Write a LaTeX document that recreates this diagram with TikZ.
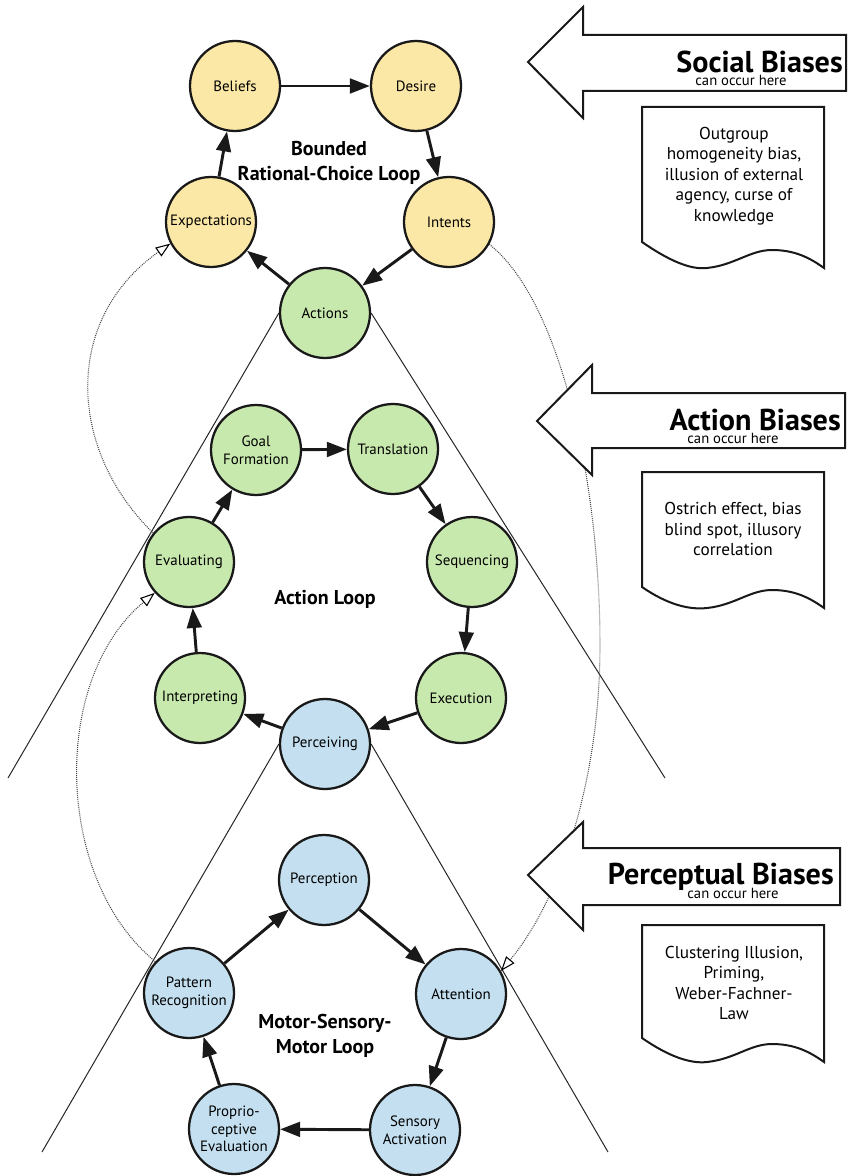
\documentclass[tikz,border=0pt]{standalone}
\usepackage{fontspec}
\setmainfont{PT Sans}
\usetikzlibrary{arrows.meta,backgrounds}
\definecolor{beliefY}{RGB}{252,232,166}
\definecolor{actionG}{RGB}{200,233,174}
\definecolor{senseB}{RGB}{196,224,240}
\definecolor{dotgray}{RGB}{70,70,70}

% note box with a wavy lower edge: #1 top, #2 lower-left y, #3 lower-right y
\newcommand{\biasnote}[3]{%
  \draw[notebox] (642,#1) -- (824,#1) -- (824,#3)
    .. controls (810,{#3-10}) and (795,{#3-18}) .. (772,{#3-18})
    .. controls (750,{#3-18}) and (735,{#3-3}) .. (707,#3)
    .. controls (690,{#3+2}) and (668,{#2+18}) .. (642,#2) -- cycle;}

\begin{document}
\begin{tikzpicture}[x=0.75pt,y=-0.75pt,
  stage/.style={circle, draw=black!90, line width=1.7pt, minimum size=67.5pt,
    inner sep=0pt, align=center, font=\fontsize{11.2}{13.3}\selectfont},
  rc/.style={stage, fill=beliefY},
  ac/.style={stage, fill=actionG},
  ms/.style={stage, fill=senseB},
  flow/.style={line width=2.2pt, draw=black!90, -{Triangle[length=15pt,width=11pt]}},
  feedback/.style={line width=0.8pt, draw=dotgray, dash pattern=on 0.7pt off 0.8pt,
    -{Triangle[open,length=11pt,width=8pt,line width=0.8pt,color=black]}},
  cone/.style={line width=0.75pt, draw=black!85},
  looptitle/.style={font=\bfseries\fontsize{15}{18.4}\selectfont, align=center},
  biasarrow/.style={draw=black!90, line width=1.5pt, fill=white, line join=miter},
  biastitle/.style={font=\bfseries\fontsize{22.6}{24}\selectfont, anchor=base east, inner sep=0pt},
  biassub/.style={font=\fontsize{11}{12}\selectfont, anchor=base, inner sep=0pt},
  notebox/.style={draw=black!90, line width=1.5pt, fill=white},
  notetext/.style={font=\fontsize{12.9}{15.4}\selectfont, align=center}
]
\useasboundingbox (0,0) rectangle (848,1176);

% ---- bounded rational-choice loop
\node[rc] (beliefs) at (235,86) {Beliefs};
\node[rc] (desire)  at (416,86) {Desire};
\node[rc] (intents) at (449,222) {Intents};
\node[rc] (expect)  at (211,222) {Expectations};
\node[ac] (actions) at (325,313) {Actions};
\node[looptitle] (rcTitle) at (329,163) {Bounded\\Rational-Choice Loop};

% ---- action loop
\node[ac] (goal)   at (256,450) {Goal\\Formation};
\node[ac] (transl) at (393,449) {Translation};
\node[ac] (seq)    at (472,562) {Sequencing};
\node[ac] (exec)   at (461,698) {Execution};
\node[ms] (perceiving) at (325,744) {Perceiving};
\node[ac] (interp) at (200,698) {Interpreting};
\node[ac] (eval)   at (189,562) {Evaluating};
\node[looptitle] (acTitle) at (325,599) {Action Loop};

% ---- motor-sensory-motor loop
\node[ms] (perception) at (324,880) {Perception};
\node[ms] (attention)  at (461,994) {Attention};
\node[ms] (sensact)    at (415,1130) {Sensory\\Activation};
\node[ms] (proprio)    at (234,1129) {Proprio-\\ceptive\\Evaluation};
\node[ms] (pattern)    at (189,993) {Pattern\\Recognition};
\node[looptitle] (msTitle) at (325,1036) {Motor-Sensory-\\Motor Loop};

% ---- loop arrows
\draw[flow] (beliefs) -- (desire);
\draw[flow] (desire) -- (intents);
\draw[flow] (intents) -- (actions);
\draw[flow] (actions) -- (expect);
\draw[flow] (expect) -- (beliefs);

\draw[flow] (goal) -- (transl);
\draw[flow] (transl) -- (seq);
\draw[flow] (seq) -- (exec);
\draw[flow] (exec) -- (perceiving);
\draw[flow] (perceiving) -- (interp);
\draw[flow] (interp) -- (eval);
\draw[flow] (eval) -- (goal);

\draw[flow] (perception) -- (attention);
\draw[flow] (attention) -- (sensact);
\draw[flow] (sensact) -- (proprio);
\draw[flow] (proprio) -- (pattern);
\draw[flow] (pattern) -- (perception);

% ---- widening cones and feedback paths behind the loops
\coordinate (topConeL) at (8,778);
\coordinate (topConeR) at (665,778);
\coordinate (lowConeL) at (42,1152);
\coordinate (lowConeR) at (608,1152);
\begin{scope}[on background layer]
  \draw[cone] (actions.west) -- (topConeL);
  \draw[cone] (actions.east) -- (topConeR);
  \draw[cone] (perceiving.west) -- (lowConeL);
  \draw[cone] (perceiving.east) -- (lowConeR);
  \draw[feedback] (eval.141) .. controls (68,450) and (62,320) .. (expect.208);
  \draw[feedback] (intents.-29) .. controls (560,300) and (600,480) .. (600,646)
                   .. controls (600,780) and (560,900) .. (attention.30);
  \draw[feedback] (pattern.137) .. controls (55,880) and (50,680) .. (eval.222);
\end{scope}

% ---- bias call-outs
\draw[biasarrow] (528,62) -- (583,7) -- (583,35) -- (846,35) -- (846,91)
  -- (583,91) -- (583,118) -- cycle;
\node[biastitle] (socialT) at (843,73) {Social Biases};
\node[biassub] (socialS) at (741,86) {can occur here};
\biasnote{107}{242}{268}
\node[notetext] (socialNote) at (734,176)
  {Outgroup\\homogeneity bias,\\illusion of external\\agency, curse of\\knowledge};

\draw[biasarrow] (537,421) -- (592,365) -- (592,393) -- (845,393) -- (845,448)
  -- (592,448) -- (592,475) -- cycle;
\node[biastitle] (actionT) at (841,430) {Action Biases};
\node[biassub] (actionS) at (733,443) {can occur here};
\biasnote{472}{587}{608}
\node[notetext] (actionNote) at (733,529)
  {Ostrich effect, bias\\blind spot, illusory\\correlation};

\draw[biasarrow] (528,875) -- (583,822) -- (583,848) -- (840,848) -- (840,905)
  -- (583,905) -- (583,930) -- cycle;
\node[biastitle] (perceptT) at (834,884) {Perceptual Biases};
\node[biassub] (perceptS) at (733,898) {can occur here};
\biasnote{925}{1038}{1062}
\node[notetext] (perceptNote) at (734,983)
  {Clustering Illusion,\\Priming,\\Weber-Fachner-\\Law};
\end{tikzpicture}
\end{document}
